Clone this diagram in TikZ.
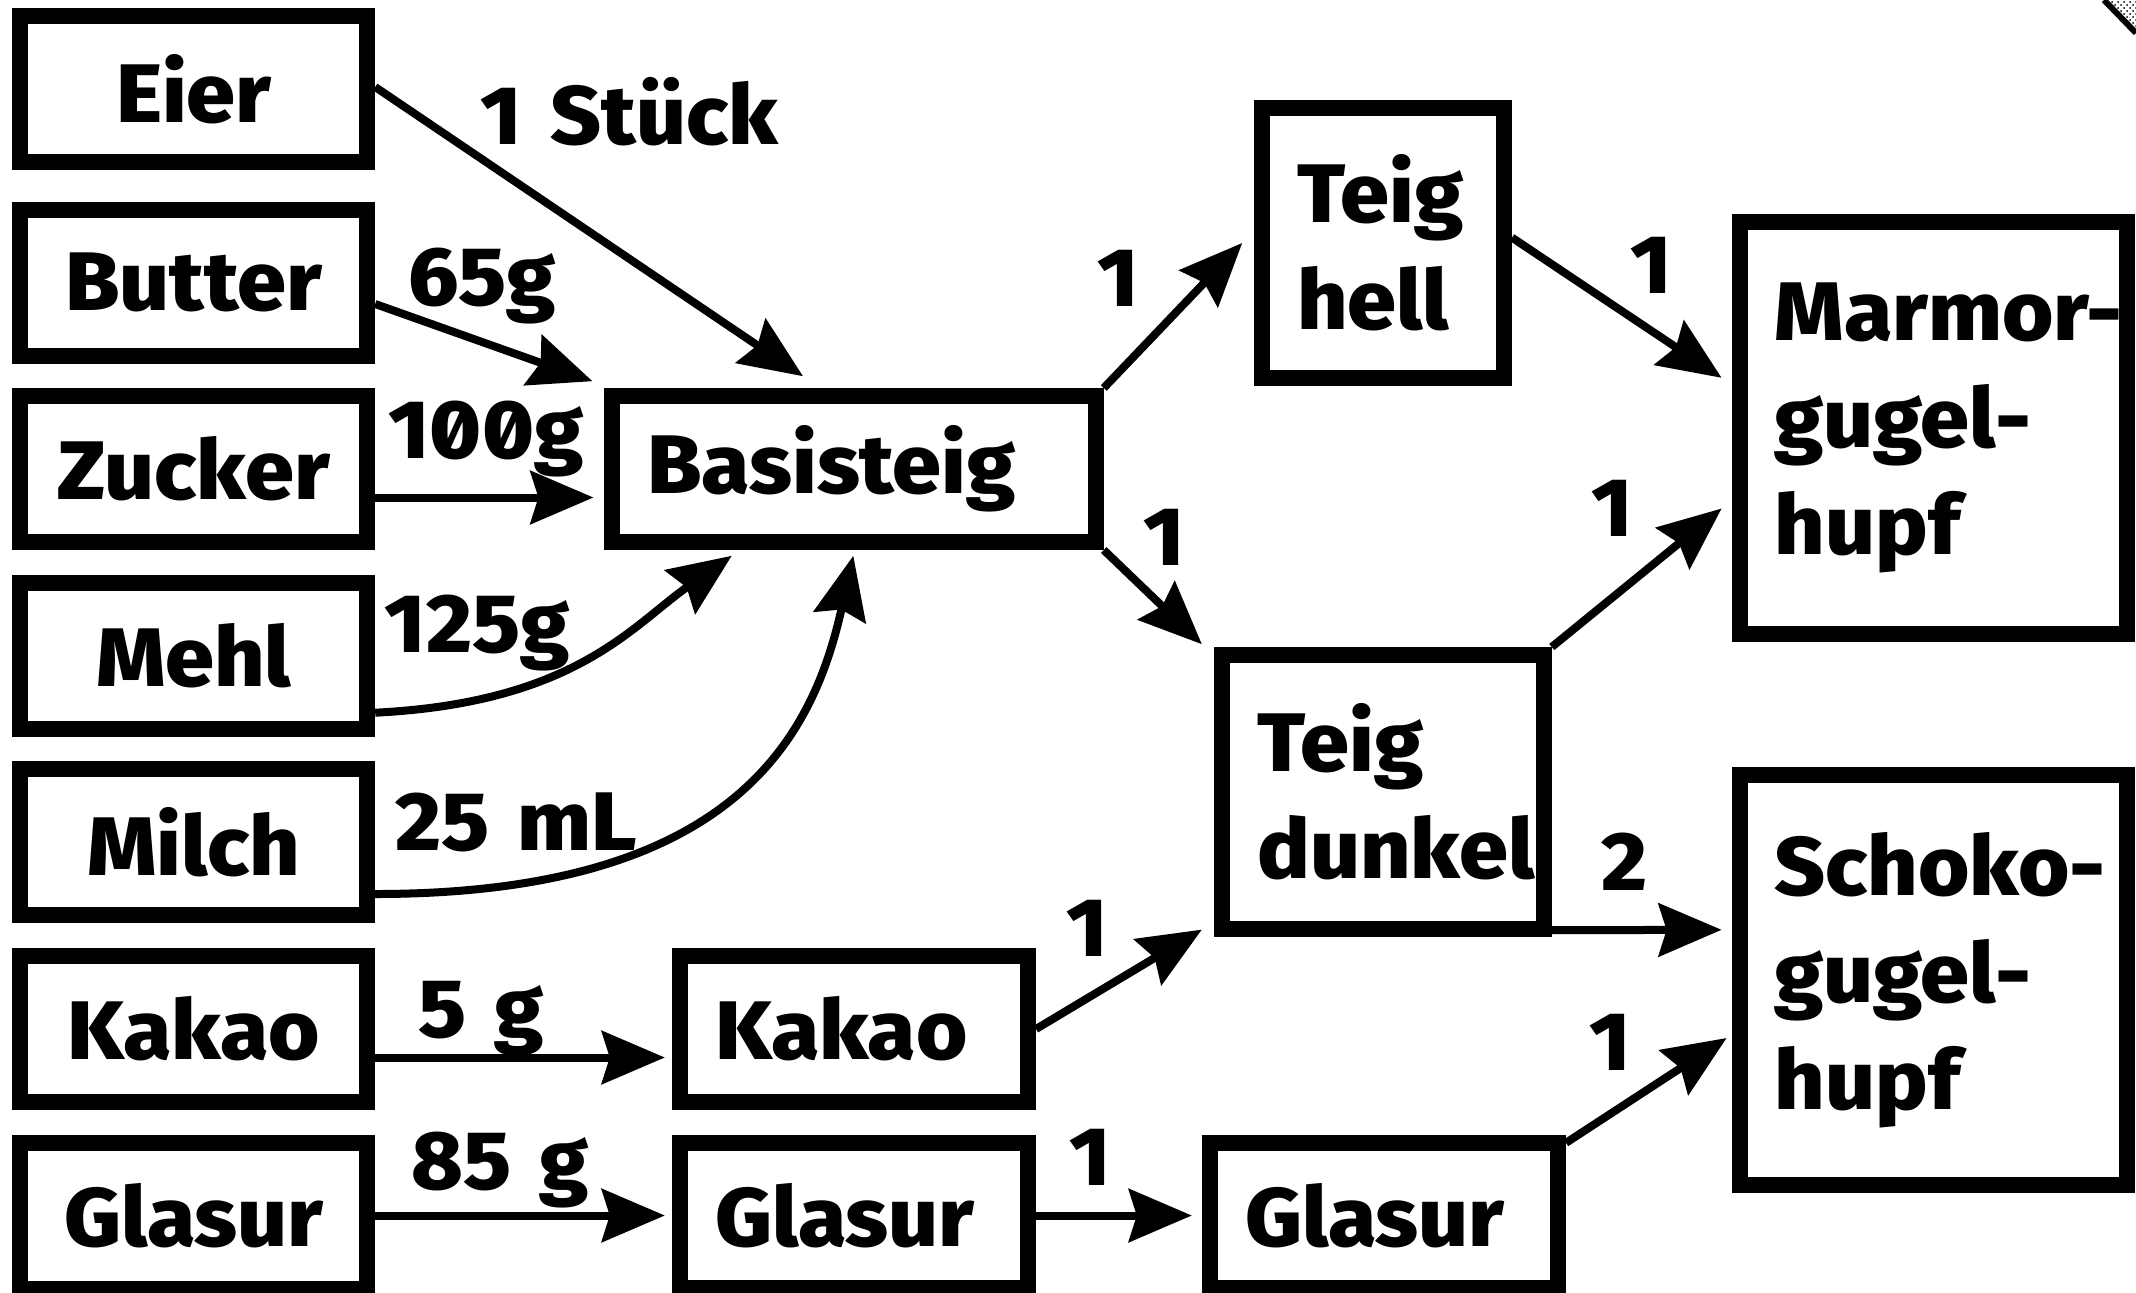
\documentclass[tikz,border=0pt]{standalone}
\usepackage{fontspec}
\setmainfont{Fira Sans ExtraBold}[Numbers=SlashedZero,FakeStretch=1.06,WordSpace=1.4]
\usetikzlibrary{arrows.meta,patterns}
\exhyphenpenalty=10000

\tikzset{
  box/.style={draw,line width=8pt,inner ysep=0pt,font=\fontsize{41.5}{53.5}\selectfont},
  zutat/.style={box,minimum width=173.5pt,minimum height=73pt,inner xsep=0pt,align=center},
  stufe/.style={box,inner xsep=17.5pt,align=left},
  menge/.style={font=\fontsize{41.5}{50}\selectfont,inner sep=0pt,anchor=base},
  pfeil/.style={line width=4pt,-{Stealth[length=31.5pt,width=26.5pt,inset=4pt]}}
}

\begin{document}
\begin{tikzpicture}[x=0.5pt,y=-0.5pt]
  \useasboundingbox (0,0) rectangle (2136,1292);
  % Zutaten
  \node[zutat] (eier) at (193.7,89) {Eier};
  \node[zutat] (butter) at (193.7,282.5) {Butter};
  \node[zutat] (zucker) at (193.7,469) {Zucker};
  \node[zutat] (mehl) at (193.7,655.5) {Mehl};
  \node[zutat] (milch) at (193.7,842) {Milch};
  \node[zutat] (kakao) at (193.7,1029) {Kakao};
  \node[zutat] (glasur) at (193.7,1215.5) {Glasur};
  % Zwischenstufen
  \node[stufe,text width=206.75pt,minimum height=73pt] (basis) at (854,469) {Basisteig};
  \node[stufe,text width=139pt,minimum height=73pt] (kakaoM) at (854,1029) {Kakao};
  \node[stufe,text width=139pt,minimum height=72.5pt] (glasurM) at (854,1215.5) {Glasur};
  \node[stufe,text width=86pt,minimum height=135pt] (hell) at (1383,243) {Teig\\hell};
  \node[stufe,text width=125.75pt,minimum height=137pt] (dunkel) at (1383,792) {Teig\\dunkel};
  \node[stufe,text width=139pt,minimum height=72.5pt] (glasurR) at (1384,1215.5) {Glasur};
  % Kuchen
  \node[stufe,text width=158.6pt,minimum height=206pt] (marmor) at (1933.4,428) {Marmor-\\gugel-\\hupf};
  \node[stufe,text width=158.6pt,minimum height=205.25pt] (schoko) at (1933.4,980) {Schoko-\\gugel-\\hupf};
  % Mengen
  \node[menge] (m1) at (629.5,144) {1 Stück};
  \node[menge] (m2) at (482.5,305) {65g};
  \node[menge] (m3) at (486,458) {100g};
  \node[menge] (m4) at (477.5,652.7) {125g};
  \node[menge] (m5) at (516,850) {25 mL};
  \node[menge] (m6) at (481.5,1037) {5 g};
  \node[menge] (m7) at (500,1189) {85 g};
  \node[menge] (n1) at (1118,306.8) {1};
  \node[menge] (n2) at (1164,565) {1};
  \node[menge] (n3) at (1651,293.5) {1};
  \node[menge] (n4) at (1612,536) {1};
  \node[menge] (n5) at (1624.5,890) {2};
  \node[menge] (n6) at (1087,956) {1};
  \node[menge] (n7) at (1090,1185.5) {1};
  \node[menge] (n8) at (1610,1070) {1};
  % Pfeile
  \draw[pfeil] ([yshift=1pt]eier.east) -- ([shift={(-25.5pt,5.9pt)}]basis.north);
  \draw[pfeil] ([yshift=-10.75pt]butter.east) -- ([shift={(-5.9pt,3.4pt)}]basis.north west);
  \draw[pfeil] ([yshift=-14.25pt]zucker.east) -- ([shift={(-5.4pt,-14.25pt)}]basis.west);
  \draw[pfeil] ([yshift=-28.6pt]mehl.east) .. controls +(200,-10) and +(-100,70) .. ([shift={(-61.15pt,-2.9pt)}]basis.south);
  \draw[pfeil] ([yshift=-26pt]milch.east) .. controls +(360,0) and +(-40,180) .. ([shift={(-0.35pt,-2.9pt)}]basis.south);
  \draw[pfeil] ([yshift=-14.25pt]kakao.east) -- ([shift={(-3.6pt,-14.25pt)}]kakaoM.west);
  \draw[pfeil] (glasur.east) -- ([xshift=-3.6pt]glasurM.west);
  \draw[pfeil] (basis.north east) -- ([xshift=-5.9pt]hell.west);
  \draw[pfeil] (basis.south east) -- ([shift={(-6.2pt,1.4pt)}]dunkel.north west);
  \draw[pfeil] ([yshift=2.7pt]hell.east) -- ([shift={(-5.1pt,25.1pt)}]marmor.west);
  \draw[pfeil] (dunkel.north east) -- ([shift={(-5.1pt,-40.25pt)}]marmor.west);
  \draw[pfeil] ([yshift=3.4pt]dunkel.south east) -- ([shift={(-5.1pt,25.1pt)}]schoko.west);
  \draw[pfeil] (kakaoM.east) -- ([shift={(-6.2pt,3.7pt)}]dunkel.south west);
  \draw[pfeil] (glasurM.east) -- ([xshift=-5.1pt]glasurR.west);
  \draw[pfeil] ([yshift=-3.9pt]glasurR.north east) -- ([shift={(-2.6pt,-29pt)}]schoko.west);
  % Ecke oben rechts
  \fill[pattern=crosshatch dots] (2104,0) -- (2136,0) -- (2136,33) -- cycle;
  \draw[line width=3pt] (2104,0) -- (2136,33);
\end{tikzpicture}
\end{document}
